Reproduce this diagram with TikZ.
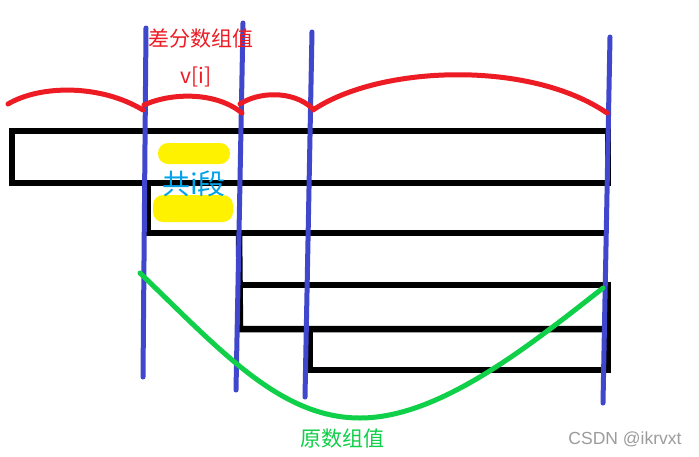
\documentclass[tikz,border=0pt]{standalone}
\usepackage{fontspec}
\newfontfamily\cjk{Noto Sans CJK SC}
\newfontfamily\wm{Liberation Sans}
\definecolor{pred}{HTML}{ED1C24}
\definecolor{pblue}{HTML}{3F48CC}
\definecolor{pgreen}{HTML}{10CF48}
\definecolor{pcyan}{HTML}{00A2E8}
\definecolor{pyellow}{HTML}{FFF200}
\definecolor{pgray}{HTML}{9C9C9C}
\tikzset{
  bar/.style={draw=black, line width=6.5pt, line cap=butt, line join=miter},
  divider/.style={draw=pblue, line width=5pt, line cap=round},
  diffcurve/.style={draw=pred, line width=5pt, line cap=round},
  origcurve/.style={draw=pgreen, line width=5pt, line cap=round},
  mark yellow/.style={fill=pyellow, rounded corners=10pt},
  lbl/.style={inner sep=0pt, font=\cjk},
}
\begin{document}
\begin{tikzpicture}[x=1pt, y=-1pt]
\useasboundingbox (0,0) rectangle (699,456);
\fill[white] (0,0) rectangle (699,456);
% black staircase bars
\draw[bar] (12,131) rectangle (608,183);
\draw[bar] (148,183) -- (148,233) -- (607,233);
\draw[bar] (239,233) -- (240,329) -- (607,329);
\draw[bar] (240,285) -- (608,285) -- (608,370) -- (310,370) -- (310,329);
% yellow highlights
\fill[mark yellow] (158,143) rectangle (230,164);
\fill[mark yellow] (153,195) rectangle (233,222);
\node[lbl, text=pcyan, font=\cjk\fontsize{28}{30}\selectfont] (seg) at (194,184) {共i段};
% blue dividers
\coordinate (b1t) at (146,28);  \coordinate (b1b) at (143,377);
\coordinate (b2t) at (243,23);  \coordinate (b2b) at (236,390);
\coordinate (b3t) at (312,32);  \coordinate (b3b) at (305,397);
\coordinate (b4t) at (610,37);  \coordinate (b4b) at (603,403);
\draw[divider] (b1t) -- (b1b);
\draw[divider] (b2t) -- (b2b);
\draw[divider] (b3t) -- (b3b);
\draw[divider] (b4t) -- (b4b);
% red difference curve
\coordinate (r0) at (8,104);
\coordinate (r1) at (143,110);
\coordinate (r2) at (144,105);
\coordinate (r3) at (242,113);
\coordinate (r4) at (240,104);
\coordinate (r5) at (312,108);
\coordinate (r6) at (313,110);
\coordinate (r7) at (607,113);
\draw[diffcurve] (r0) .. controls (40,85) and (100,84) .. (r1);
\draw[diffcurve] (r2) .. controls (170,93) and (215,91) .. (r3);
\draw[diffcurve] (r4) .. controls (258,92) and (292,90) .. (r5);
\draw[diffcurve] (r6) .. controls (380,65) and (530,60) .. (r7);
% green original curve
\coordinate (g0) at (140,273);
\coordinate (g1) at (360,418);
\coordinate (g2) at (603,288);
\draw[origcurve] (g0) .. controls (220,350) and (280,418) .. (g1)
  .. controls (440,418) and (530,345) .. (g2);
% labels
\node[lbl, text=pred, font=\cjk\fontsize{21}{24}\selectfont] (t1) at (201,39) {差分数组值};
\node[lbl, text=pred, font=\cjk\fontsize{21}{24}\selectfont] (t2) at (196,77) {v[i]};
\node[lbl, text=pgreen, font=\cjk\fontsize{21}{24}\selectfont] (t3) at (342,439) {原数组值};
\node[lbl, text=pgray, font=\wm\fontsize{17.5}{20}\selectfont] (wm) at (625,439) {CSDN @ikrvxt};
\end{tikzpicture}
\end{document}
